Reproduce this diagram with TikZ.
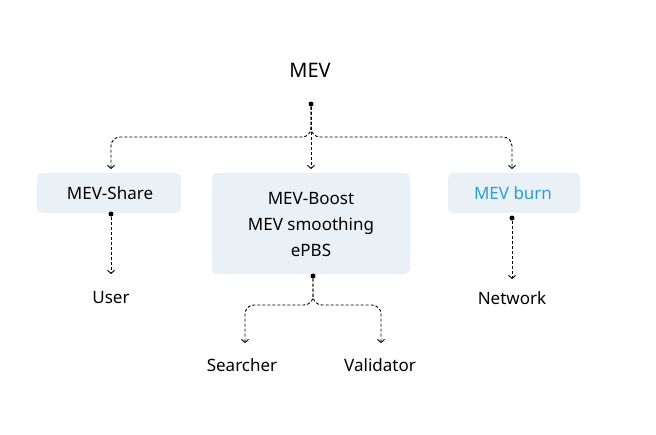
\documentclass[tikz,border=0pt]{standalone}
\usepackage{fontspec}
\setmainfont{Noto Sans}
\usetikzlibrary{arrows.meta}
\definecolor{boxbg}{HTML}{EAF1F6}
\definecolor{burn}{HTML}{2A9FD6}
\begin{document}
\begin{tikzpicture}[x=1pt,y=-1pt,
  box/.style={fill=boxbg,rounded corners=5pt,draw=none},
  lbl/.style={font=\fontsize{17}{26}\selectfont,align=center,inner sep=0pt},
  con/.style={densely dashed,line width=0.9pt,rounded corners=9pt,-{Straight Barb[length=3pt,width=7pt]}},
  dot/.style={circle,fill=black,inner sep=0pt,minimum size=5pt}]
\useasboundingbox (0,0) rectangle (656,434);
\node[lbl,font=\fontsize{20}{24}\selectfont\bfseries] (mev) at (310,70) {MEV};
\node[dot] (d0) at (311,104) {};
\fill[box] (37,173) rectangle (181,213);
\fill[box] (212,173) rectangle (410,274);
\fill[box] (448,173) rectangle (580,213);
\node[lbl] (share) at (110,193) {MEV-Share};
\node[lbl] (boost) at (311,225) {MEV-Boost\\MEV smoothing\\ePBS};
\node[lbl,text=burn,font=\fontsize{17}{26}\selectfont\bfseries] (burn) at (513,193) {MEV burn};
\coordinate (a1) at (111,169);
\coordinate (a2) at (311,169);
\coordinate (a3) at (512,169);
\draw[con] (d0) -- (311,137) -- (111,137) -- (a1);
\draw[con] (d0) -- (a2);
\draw[con] (d0) -- (311,137) -- (512,137) -- (a3);
\node[dot] (d1) at (111,214) {};
\node[dot] (d2) at (512,218) {};
\node[dot] (d3) at (313,276) {};
\node[lbl] (user) at (111,298) {User};
\node[lbl] (net) at (512,298) {Network};
\node[lbl] (srch) at (242,365) {Searcher};
\node[lbl] (val) at (380,365) {Validator};
\coordinate (b1) at (111,274);
\coordinate (b2) at (512,279);
\coordinate (c1) at (245,343);
\coordinate (c2) at (381,343);
\draw[con] (d1) -- (b1);
\draw[con] (d2) -- (b2);
\draw[con] (d3) -- (313,305) -- (245,305) -- (c1);
\draw[con] (d3) -- (313,305) -- (381,305) -- (c2);
\end{tikzpicture}
\end{document}
